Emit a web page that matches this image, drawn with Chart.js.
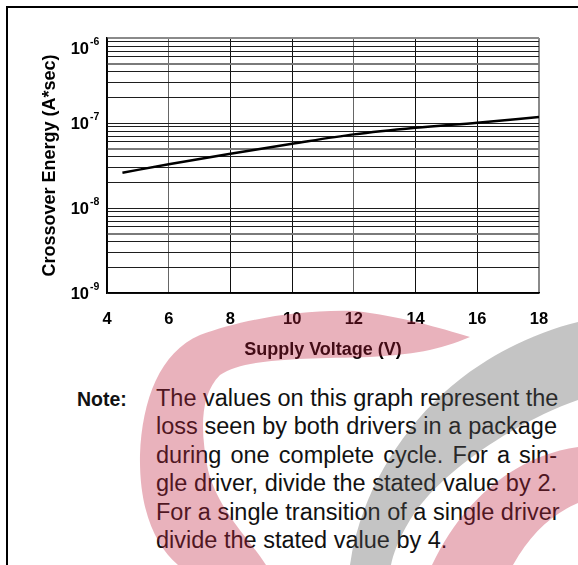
<!DOCTYPE html>
<html>
<head>
<meta charset="utf-8">
<script src="https://cdn.jsdelivr.net/npm/chart.js@4.4.0/dist/chart.umd.min.js"></script>
<style>
  html, body { margin: 0; padding: 0; background: #fff; }
  body { width: 578px; height: 565px; position: relative; overflow: hidden; font-family: 'Liberation Sans', Arial, sans-serif; }
  .frame { position: absolute; left: 6px; top: 6px; width: 620px; height: 620px; border-left: 2px solid #000; border-top: 2px solid #000; }
  #chart { position: absolute; left: 0; top: 0; }
  .note-label { position: absolute; left: 77px; top: 384.5px; font-weight: bold; font-size: 19.5px; line-height: 28.5px; color: #111; }
  .note-text { position: absolute; left: 156px; top: 383.5px; width: 401px; font-size: 23.5px; line-height: 28.5px; color: #111; }
  .note-text div { white-space: nowrap; text-align: justify; text-align-last: justify; }
  .note-text div.last { text-align: left; text-align-last: left; }
  .watermark { position: absolute; left: 0; top: 0; pointer-events: none; }
</style>
</head>
<body>
<div class="frame"></div>
<canvas id="chart" width="578" height="380"></canvas>
<div class="note-label">Note:</div>
<div class="note-text">
  <div>The values on this graph represent the</div>
  <div>loss seen by both drivers in a package</div>
  <div>during one complete cycle. For a sin-</div>
  <div>gle driver, divide the stated value by 2.</div>
  <div>For a single transition of a single driver</div>
  <div class="last">divide the stated value by 4.</div>
</div>
<svg class="watermark" width="578" height="565" viewBox="0 0 578 565">
  <g opacity="0.35">
    <path fill="rgb(192,35,64)" d="M470 337 C440 328 400 316 355 311 C300 309 240 320 200 335 C160 352 142 400 140 455 C139 510 155 545 178 565 L266 565 C250 540 218 510 208 470 C200 430 200 395 220 375 C245 358 300 359 370 357 C410 355 440 350 470 337 Z"/>
    <path fill="rgb(86,86,86)" d="M350 565 C360 490 410 410 480 365 C510 345 545 330 578 322 L578 400 C520 420 440 470 410 520 C398 540 393 555 391 565 Z"/>
    <path fill="rgb(192,35,64)" d="M578 447 C520 455 465 495 432 565 L513 565 C530 535 550 515 578 503 Z"/>
  </g>
</svg>
<script>
// Crossover energy vs supply voltage
const voltage = [4.5, 6, 8, 10, 12, 14, 16, 18];
const energy = [2.6e-8, 3.27e-8, 4.36e-8, 5.7e-8, 7.35e-8, 8.8e-8, 1.01e-7, 1.175e-7];

// Axis ticks
const voltTicks = [4, 6, 8, 10, 12, 14, 16, 18];
const decades = [-9, -8, -7, -6];
const mantissas = [1, 2, 3, 4, 5, 6, 7, 8, 9];

const FONT = '"Liberation Sans", Arial, sans-serif';

// one grid line per 1..9 x 10^n, plus the top decade
const gridValues = [];
decades.slice(0, -1).forEach(e => {
    mantissas.forEach(m => gridValues.push(m * Math.pow(10, e)));
});
gridValues.push(Math.pow(10, decades[decades.length - 1]));

const mantissaOf = v => Math.round(v / Math.pow(10, Math.floor(Math.log10(v) + 1e-6)));

// 10^n labels with a raised exponent
const decadeLabels = {
    id: 'decadeLabels',
    afterDraw(chart) {
        const {ctx, chartArea, scales: {y}} = chart;
        ctx.save();
        ctx.fillStyle = '#000';
        ctx.textBaseline = 'alphabetic';
        decades.forEach(e => {
            const py = y.getPixelForValue(Math.pow(10, e));
            const base = Math.max(py + 5.7, chartArea.top + 16);
            ctx.font = 'bold 16.5px ' + FONT;
            ctx.textAlign = 'right';
            ctx.fillText('10', chartArea.left - 18, base);
            ctx.font = 'bold 10.5px ' + FONT;
            ctx.textAlign = 'left';
            ctx.fillText(String(e), chartArea.left - 17, base - 8.6);
        });
        ctx.restore();
    }
};

new Chart(document.getElementById('chart'), {
    type: 'line',
    data: {
        datasets: [{
            data: voltage.map((v, i) => ({x: v, y: energy[i]})),
            borderColor: '#000',
            borderWidth: 2.5,
            pointRadius: 0,
            cubicInterpolationMode: 'monotone',
            fill: false
        }]
    },
    options: {
        responsive: false,
        animation: false,
        devicePixelRatio: 1,
        layout: {
            padding: {top: 38, right: 39, left: 0, bottom: 0}
        },
        plugins: {
            legend: {display: false},
            tooltip: {enabled: false}
        },
        scales: {
            x: {
                type: 'linear',
                min: 4,
                max: 18,
                afterBuildTicks: s => { s.ticks = voltTicks.map(v => ({value: v})); },
                afterFit: s => { s.height = 87; },
                grid: {
                    drawTicks: false,
                    color: c => c.tick.value === 18 ? '#8a8a8a' : (c.tick.value === 6 || c.tick.value === 12 ? '#666' : '#111'),
                    lineWidth: c => c.tick.value === 18 ? 2 : 1
                },
                border: {color: '#000', width: 1.5},
                ticks: {
                    autoSkip: false,
                    maxRotation: 0,
                    padding: 17,
                    color: '#000',
                    font: {family: FONT, size: 16.5, weight: 'bold'}
                },
                title: {
                    display: true,
                    text: 'Supply Voltage (V)',
                    color: '#000',
                    font: {family: FONT, size: 18, weight: 'bold'},
                    padding: {top: 0, bottom: 19}
                }
            },
            y: {
                type: 'logarithmic',
                min: 1e-9,
                max: 1e-6,
                afterBuildTicks: s => { s.ticks = gridValues.map(v => ({value: v})); },
                afterFit: s => { s.width = 107; },
                grid: {
                    drawTicks: false,
                    color: c => {
                        const v = c.tick.value;
                        if (v > 0.99e-6) return '#8a8a8a';
                        return mantissaOf(v) === 5 ? '#7a7a7a' : '#1e1e1e';
                    },
                    lineWidth: c => {
                        const v = c.tick.value;
                        return (v > 0.99e-6 || mantissaOf(v) === 5) ? 2 : 1;
                    }
                },
                border: {color: '#000', width: 1.5},
                ticks: {display: false},
                title: {
                    display: true,
                    text: 'Crossover Energy (A*sec)',
                    color: '#000',
                    font: {family: FONT, size: 18, weight: 'bold'},
                    padding: {top: 39, bottom: 0}
                }
            }
        }
    },
    plugins: [decadeLabels]
});
</script>
</body>
</html>
